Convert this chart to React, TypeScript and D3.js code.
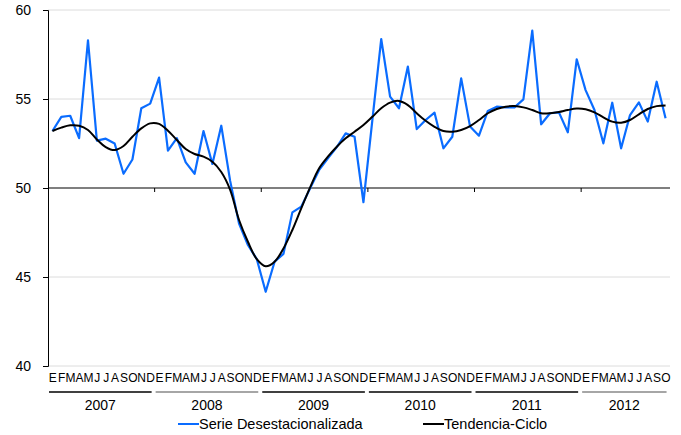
import React, { useEffect, useRef } from "react";
import * as d3 from "d3";

const years = ["2007", "2008", "2009", "2010", "2011", "2012"];
const monthLetters = ["E", "F", "M", "A", "M", "J", "J", "A", "S", "O", "N", "D"];

// Serie desestacionalizada, ene-2007 .. oct-2012
const serie = [
  53.2, 54.0, 54.06, 52.8, 58.3, 52.66, 52.77, 52.5, 50.8, 51.6, 54.48, 54.74,
  56.2, 52.1, 52.8, 51.44, 50.8, 53.2, 51.35, 53.5, 50.4, 48.0, 46.8, 46.0,
  44.17, 45.86, 46.3, 48.63, 48.95, 49.98, 51.0, 51.67, 52.3, 53.07, 52.88, 49.2,
  53.8, 58.37, 55.13, 54.48, 56.82, 53.31, 53.82, 54.23, 52.23, 52.88, 56.16, 53.45,
  52.94, 54.33, 54.57, 54.53, 54.53, 54.98, 58.84, 53.58, 54.2, 54.25, 53.13, 57.23,
  55.5, 54.38, 52.51, 54.79, 52.23, 54.1, 54.81, 53.73, 55.97, 53.92,
];

// Tendencia-ciclo
const tendencia = [
  53.2, 53.39, 53.52, 53.5, 53.26, 52.73, 52.3, 52.13, 52.36, 52.88, 53.35, 53.63,
  53.6, 53.22, 52.7, 52.19, 51.91, 51.76, 51.48, 50.9, 49.9, 48.2, 46.98, 46.0,
  45.6, 45.86, 46.6, 47.64, 48.86, 50.04, 51.1, 51.76, 52.32, 52.79, 53.16, 53.54,
  54.0, 54.48, 54.8, 54.89, 54.66, 54.2, 53.78, 53.44, 53.2, 53.16, 53.26, 53.48,
  53.82, 54.2, 54.44, 54.57, 54.6, 54.53, 54.38, 54.2, 54.2, 54.27, 54.38, 54.46,
  54.42, 54.25, 53.97, 53.73, 53.67, 53.82, 54.14, 54.44, 54.6, 54.64,
];

const yTicks = [40, 45, 50, 55, 60];

const W = 681;
const H = 435;
const margin = { left: 48, right: 11, top: 10, bottom: 69 };
const FONT = "'Liberation Sans', Arial, sans-serif";

const App = () => {
  const ref = useRef<SVGSVGElement | null>(null);

  useEffect(() => {
    const svg = d3.select(ref.current);
    svg.selectAll("*").remove();

    const months = serie.map((_, i) => i);
    const x = d3
      .scaleBand<number>()
      .domain(months)
      .range([margin.left, W - margin.right])
      .padding(0);
    const y = d3
      .scaleLinear()
      .domain([40, 60])
      .range([H - margin.bottom, margin.top]);
    const cx = (i: number) => (x(i) as number) + x.bandwidth() / 2;

    // gridlines
    svg
      .append("g")
      .selectAll("line")
      .data(yTicks.filter((t) => t !== 50))
      .enter()
      .append("line")
      .attr("x1", margin.left)
      .attr("x2", W - margin.right)
      .attr("y1", (d) => y(d))
      .attr("y2", (d) => y(d))
      .attr("stroke", "#dcdcdc")
      .attr("stroke-width", 1);

    // y axis
    const yAxis = svg
      .append("g")
      .attr("transform", `translate(${margin.left},0)`)
      .call(d3.axisLeft(y).tickValues(yTicks).tickSize(5).tickPadding(12));
    yAxis.select(".domain").attr("stroke", "#000");
    yAxis.selectAll(".tick line").attr("stroke", "#000");
    yAxis
      .selectAll("text")
      .attr("font-family", FONT)
      .attr("font-size", 14)
      .attr("fill", "#000");

    // 50 baseline with year ticks
    svg
      .append("line")
      .attr("x1", margin.left)
      .attr("x2", W - margin.right)
      .attr("y1", y(50))
      .attr("y2", y(50))
      .attr("stroke", "#000")
      .attr("stroke-width", 1.2);
    svg
      .append("g")
      .selectAll("line")
      .data(years.slice(1))
      .enter()
      .append("line")
      .attr("x1", (_, k) => x((k + 1) * 12) as number)
      .attr("x2", (_, k) => x((k + 1) * 12) as number)
      .attr("y1", y(50))
      .attr("y2", y(50) + 4)
      .attr("stroke", "#000");

    // series
    const lineBlue = d3
      .line<number>()
      .x((_, i) => cx(i))
      .y((d) => y(d));
    const lineBlack = d3
      .line<number>()
      .x((_, i) => cx(i))
      .y((d) => y(d))
      .curve(d3.curveCatmullRom.alpha(0.5));

    svg
      .append("path")
      .datum(serie)
      .attr("fill", "none")
      .attr("stroke", "#0a6cff")
      .attr("stroke-width", 2.2)
      .attr("stroke-linejoin", "round")
      .attr("d", lineBlue);
    svg
      .append("path")
      .datum(tendencia)
      .attr("fill", "none")
      .attr("stroke", "#000")
      .attr("stroke-width", 2)
      .attr("d", lineBlack);

    // month letters
    svg
      .append("g")
      .selectAll("text")
      .data(months)
      .enter()
      .append("text")
      .attr("x", (d) => cx(d))
      .attr("y", H - margin.bottom + 16)
      .attr("text-anchor", "middle")
      .attr("font-family", FONT)
      .attr("font-size", 12)
      .attr("letter-spacing", -0.8)
      .text((d) => monthLetters[d % 12]);

    // year separators and labels
    const yearG = svg.append("g");
    years.forEach((yr, k) => {
      const start = k * 12;
      const end = Math.min(start + 12, serie.length);
      const x0 = (x(start) as number) + 1;
      const x1 = k === years.length - 1 ? cx(end - 1) + 1 : (x(end - 1) as number) + x.bandwidth() - 3;
      const grey = yr === "2008" || yr === "2012";
      yearG
        .append("line")
        .attr("x1", x0)
        .attr("x2", x1)
        .attr("y1", 392)
        .attr("y2", 392)
        .attr("stroke", grey ? "#888" : "#000")
        .attr("stroke-width", 1.5);
      yearG
        .append("text")
        .attr("x", (x0 + x1) / 2)
        .attr("y", 410)
        .attr("text-anchor", "middle")
        .attr("font-family", FONT)
        .attr("font-size", 14)
        .text(yr);
    });

    // legend
    const legend = [
      { label: "Serie Desestacionalizada", color: "#0a6cff", x: 178 },
      { label: "Tendencia-Ciclo", color: "#000", x: 423 },
    ];
    const lg = svg.append("g");
    legend.forEach((l) => {
      lg.append("line")
        .attr("x1", l.x)
        .attr("x2", l.x + 21)
        .attr("y1", 424)
        .attr("y2", 424)
        .attr("stroke", l.color)
        .attr("stroke-width", 2);
      lg.append("text")
        .attr("x", l.x + 21)
        .attr("y", 429)
        .attr("font-family", FONT)
        .attr("font-size", 14.5)
        .text(l.label);
    });
  }, []);

  return <svg ref={ref} width={W} height={H} style={{ display: "block", position: "absolute", left: 0, top: 0 }} />;
};

export default App;
